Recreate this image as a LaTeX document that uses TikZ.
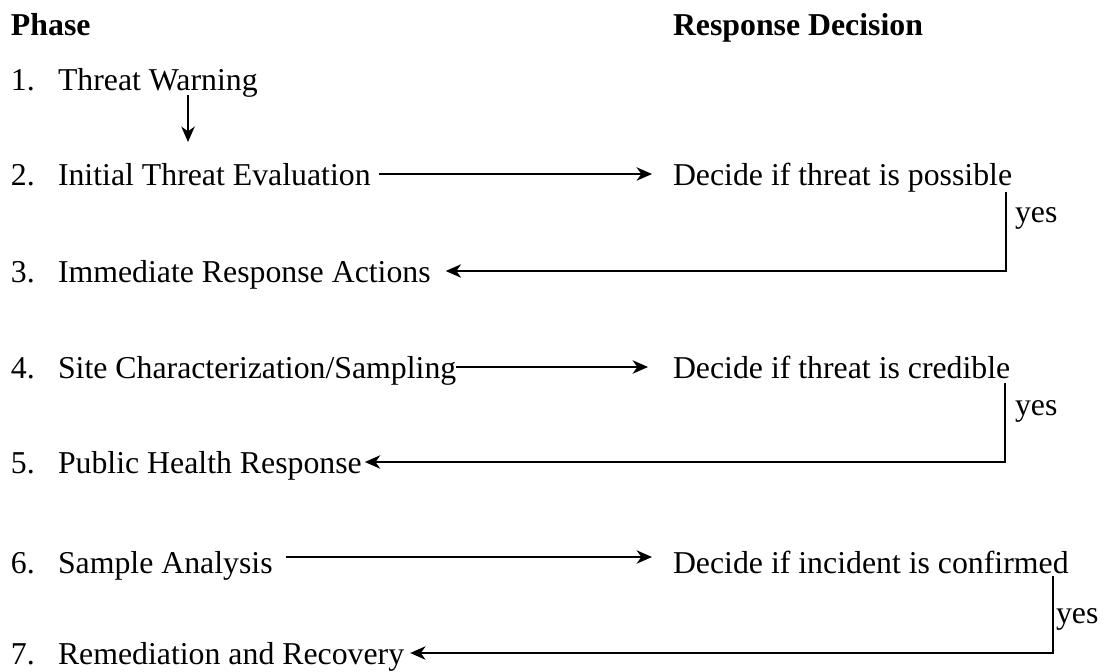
\documentclass[tikz,border=0pt]{standalone}
\usepackage{fontspec}
\setmainfont{Liberation Serif}
\usetikzlibrary{arrows.meta}
\begin{document}
\begin{tikzpicture}[x=0.75pt,y=-0.75pt,
  txt/.style={anchor=base west,inner sep=0pt,outer sep=0pt,text height=16.5pt,text depth=0pt,font=\fontsize{23.85}{28}\selectfont},
  hd/.style={txt,font=\fontsize{23.85}{28}\selectfont\bfseries},
  arr/.style={line width=1.6pt,-{Stealth[length=11.5pt,width=10pt,inset=3.5pt]}},
  ln/.style={line width=1.6pt}]
\useasboundingbox (0,0) rectangle (1112,671);
% headings
\node[hd] (hphase) at (11,35) {Phase};
\node[hd] (hresp) at (673,35) {Response Decision};
% numbers
\node[txt] (n1) at (11,90) {1.};
\node[txt] (n2) at (11,185) {2.};
\node[txt] (n3) at (11,282) {3.};
\node[txt] (n4) at (11,378) {4.};
\node[txt] (n5) at (11,473) {5.};
\node[txt] (n6) at (11,573) {6.};
\node[txt] (n7) at (11,664) {7.};
% phases
\node[txt] (t1) at (58,90) {Threat Warning};
\node[txt] (t2) at (58,185) {Initial Threat Evaluation};
\node[txt] (t3) at (58,282) {Immediate Response Actions};
\node[txt] (t4) at (58,378) {Site Characterization/Sampling};
\node[txt] (t5) at (58,473) {Public Health Response};
\node[txt] (t6) at (58,573) {Sample Analysis};
\node[txt] (t7) at (58,664) {Remediation and Recovery};
% decisions
\node[txt] (d2) at (673,185) {Decide if threat is possible};
\node[txt] (d4) at (673,378) {Decide if threat is credible};
\node[txt] (d6) at (673,573) {Decide if incident is confirmed};
% yes labels
\node[txt] (y2) at (1015,222) {yes};
\node[txt] (y4) at (1015,415) {yes};
\node[txt] (y6) at (1056,623) {yes};
% connectors
\draw[arr] ([shift={(130,5)}]t1.base west) -- ([shift={(130,-43)}]t2.base west);
\draw[arr] ([shift={(8,0)}]t2.east) -- ([shift={(-21,0)}]d2.west);
\draw[arr] ([shift={(-6,7)}]d2.south east) |- ([shift={(15,0)}]t3.east);
\draw[arr] ([shift={(0,0)}]t4.east) -- ([shift={(-25,0)}]d4.west);
\draw[arr] ([shift={(-5,5)}]d4.south east) |- ([shift={(3,0)}]t5.east);
\draw[arr] ([shift={(13,-5)}]t6.east) -- ([shift={(-21,-5)}]d6.west);
\draw[arr] ([shift={(-16,3)}]d6.south east) |- ([shift={(6,0)}]t7.east);
\end{tikzpicture}
\end{document}
